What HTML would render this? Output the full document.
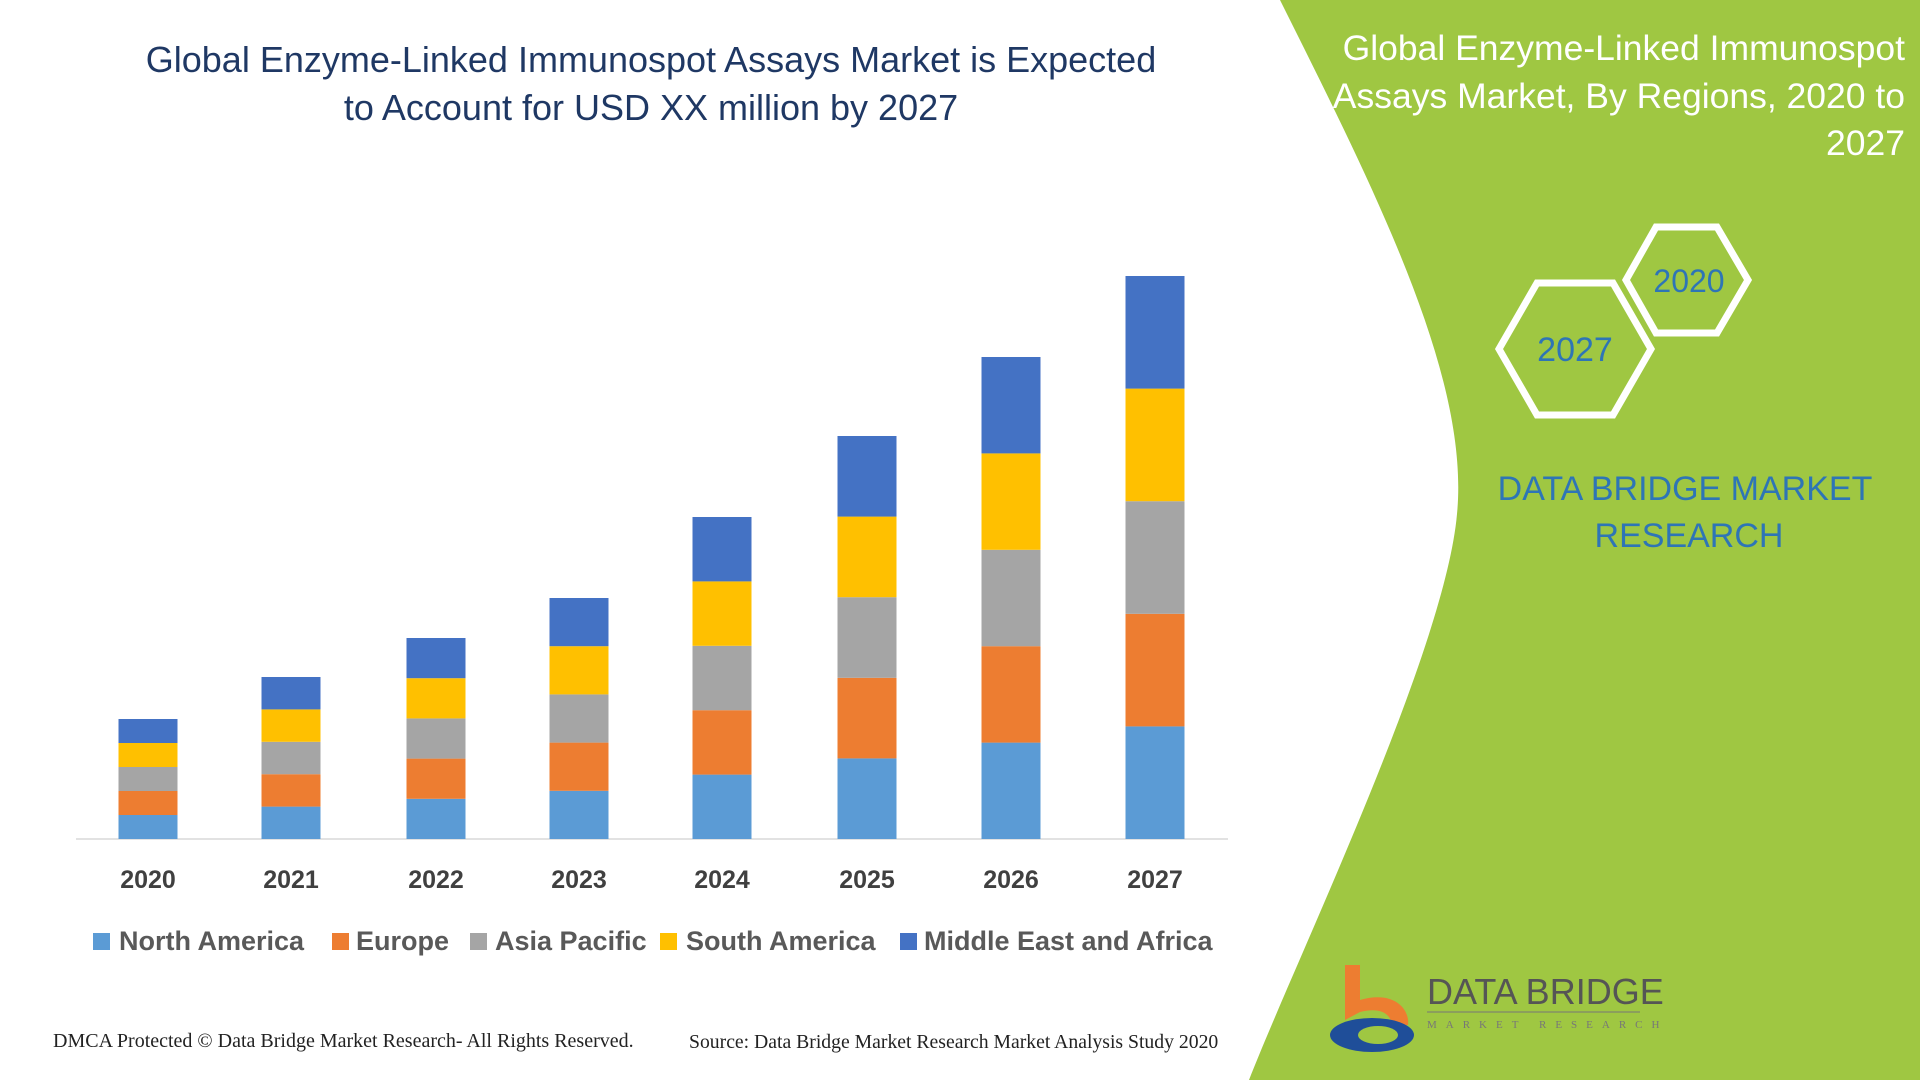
<!DOCTYPE html>
<html><head><meta charset="utf-8"><style>
html,body{margin:0;padding:0;width:1920px;height:1080px;overflow:hidden;background:#fff}
svg{display:block}
</style></head><body>
<svg width="1920" height="1080" viewBox="0 0 1920 1080" xmlns="http://www.w3.org/2000/svg">
<rect width="1920" height="1080" fill="#ffffff"/>
<path d="M1280 0 L1920 0 L1920 1080 L1249 1080 C1300 950 1445 650 1457 514 C1470 380 1380 200 1280 0 Z" fill="#9fc742"/>
<g font-family="Liberation Sans, sans-serif" fill="#ffffff" font-size="35.5" text-anchor="end">
<text x="1905" y="60">Global Enzyme-Linked Immunospot</text>
<text x="1905" y="108">Assays Market, By Regions, 2020 to</text>
<text x="1905" y="155">2027</text>
</g>
<g fill="none" stroke="#ffffff" stroke-width="7">
<polygon points="1499,349 1537,283 1613,283 1651,349 1613,415 1537,415"/>
<polygon points="1626,280 1656,227 1717,227 1748,280 1717,333 1656,333"/>
</g>
<g font-family="Liberation Sans, sans-serif" fill="#2e75b6" text-anchor="middle">
<text x="1575" y="361" font-size="34">2027</text>
<text x="1689" y="292" font-size="32">2020</text>
<text x="1685" y="500" font-size="34">DATA BRIDGE MARKET</text>
<text x="1689" y="547" font-size="34">RESEARCH</text>
</g>
<g font-family="Liberation Sans, sans-serif" fill="#1f3864" font-size="36" text-anchor="middle">
<text x="651" y="72">Global Enzyme-Linked Immunospot Assays Market is Expected</text>
<text x="651" y="120">to Account for USD XX million by 2027</text>
</g>
<line x1="76" y1="839" x2="1228" y2="839" stroke="#d9d9d9" stroke-width="1.5"/>
<g>
<g transform="translate(118.5,0)"><rect y="815" width="59" height="24" fill="#5b9bd5"/><rect y="791" width="59" height="24" fill="#ed7d31"/><rect y="767" width="59" height="24" fill="#a5a5a5"/><rect y="743" width="59" height="24" fill="#ffc000"/><rect y="719" width="59" height="24" fill="#4472c4"/></g>
<g transform="translate(261.5,0)"><rect y="806.6" width="59" height="32.4" fill="#5b9bd5"/><rect y="774.2" width="59" height="32.4" fill="#ed7d31"/><rect y="741.8" width="59" height="32.4" fill="#a5a5a5"/><rect y="709.4" width="59" height="32.4" fill="#ffc000"/><rect y="677" width="59" height="32.4" fill="#4472c4"/></g>
<g transform="translate(406.5,0)"><rect y="798.8" width="59" height="40.2" fill="#5b9bd5"/><rect y="758.6" width="59" height="40.2" fill="#ed7d31"/><rect y="718.4" width="59" height="40.2" fill="#a5a5a5"/><rect y="678.2" width="59" height="40.2" fill="#ffc000"/><rect y="638" width="59" height="40.2" fill="#4472c4"/></g>
<g transform="translate(549.5,0)"><rect y="790.8" width="59" height="48.2" fill="#5b9bd5"/><rect y="742.6" width="59" height="48.2" fill="#ed7d31"/><rect y="694.4" width="59" height="48.2" fill="#a5a5a5"/><rect y="646.2" width="59" height="48.2" fill="#ffc000"/><rect y="598" width="59" height="48.2" fill="#4472c4"/></g>
<g transform="translate(692.5,0)"><rect y="774.6" width="59" height="64.4" fill="#5b9bd5"/><rect y="710.2" width="59" height="64.4" fill="#ed7d31"/><rect y="645.8" width="59" height="64.4" fill="#a5a5a5"/><rect y="581.4" width="59" height="64.4" fill="#ffc000"/><rect y="517" width="59" height="64.4" fill="#4472c4"/></g>
<g transform="translate(837.5,0)"><rect y="758.4" width="59" height="80.6" fill="#5b9bd5"/><rect y="677.8" width="59" height="80.6" fill="#ed7d31"/><rect y="597.2" width="59" height="80.6" fill="#a5a5a5"/><rect y="516.6" width="59" height="80.6" fill="#ffc000"/><rect y="436" width="59" height="80.6" fill="#4472c4"/></g>
<g transform="translate(981.5,0)"><rect y="742.6" width="59" height="96.4" fill="#5b9bd5"/><rect y="646.2" width="59" height="96.4" fill="#ed7d31"/><rect y="549.8" width="59" height="96.4" fill="#a5a5a5"/><rect y="453.4" width="59" height="96.4" fill="#ffc000"/><rect y="357" width="59" height="96.4" fill="#4472c4"/></g>
<g transform="translate(1125.5,0)"><rect y="726.4" width="59" height="112.6" fill="#5b9bd5"/><rect y="613.8" width="59" height="112.6" fill="#ed7d31"/><rect y="501.2" width="59" height="112.6" fill="#a5a5a5"/><rect y="388.6" width="59" height="112.6" fill="#ffc000"/><rect y="276" width="59" height="112.6" fill="#4472c4"/></g>
</g>
<g font-family="Liberation Sans, sans-serif" font-weight="bold" fill="#404040" font-size="25" text-anchor="middle">
<text x="148" y="888">2020</text><text x="291" y="888">2021</text><text x="436" y="888">2022</text><text x="579" y="888">2023</text>
<text x="722" y="888">2024</text><text x="867" y="888">2025</text><text x="1011" y="888">2026</text><text x="1155" y="888">2027</text>
</g>
<g font-family="Liberation Sans, sans-serif" font-weight="bold" fill="#595959" font-size="27">
<rect x="93" y="933" width="17" height="17" fill="#5b9bd5"/><text x="119" y="950">North America</text>
<rect x="332" y="933" width="17" height="17" fill="#ed7d31"/><text x="356" y="950">Europe</text>
<rect x="470" y="933" width="17" height="17" fill="#a5a5a5"/><text x="495" y="950">Asia Pacific</text>
<rect x="660" y="933" width="17" height="17" fill="#ffc000"/><text x="686" y="950">South America</text>
<rect x="900" y="933" width="17" height="17" fill="#4472c4"/><text x="924" y="950">Middle East and Africa</text>
</g>
<g font-family="Liberation Serif, serif" fill="#222">
<text x="53" y="1047" font-size="20">DMCA Protected © Data Bridge Market Research- All Rights Reserved.</text>
<text x="689" y="1048" font-size="19.7">Source: Data Bridge Market Research Market Analysis Study 2020</text>
</g>
<g>
<path d="M1345 965 L1360 965 L1360 1000 C1395 990 1410 1010 1408 1025 L1392 1025 C1390 1010 1375 1008 1360 1012 L1345 1020 Z" fill="#ed7d31"/>
<ellipse cx="1372" cy="1035" rx="42" ry="17" fill="#1f4e99"/>
<ellipse cx="1378" cy="1035" rx="20" ry="9" fill="#9fc742"/>
<text x="1427" y="1004" font-family="Liberation Sans, sans-serif" font-size="36" fill="#555">DATA BRIDGE</text>
<line x1="1427" y1="1012" x2="1640" y2="1012" stroke="#777" stroke-width="1"/>
<text x="1427" y="1028" font-family="Liberation Serif, serif" font-size="11" fill="#777" letter-spacing="9">MARKET RESEARCH</text>
</g>
</svg>
</body></html>
